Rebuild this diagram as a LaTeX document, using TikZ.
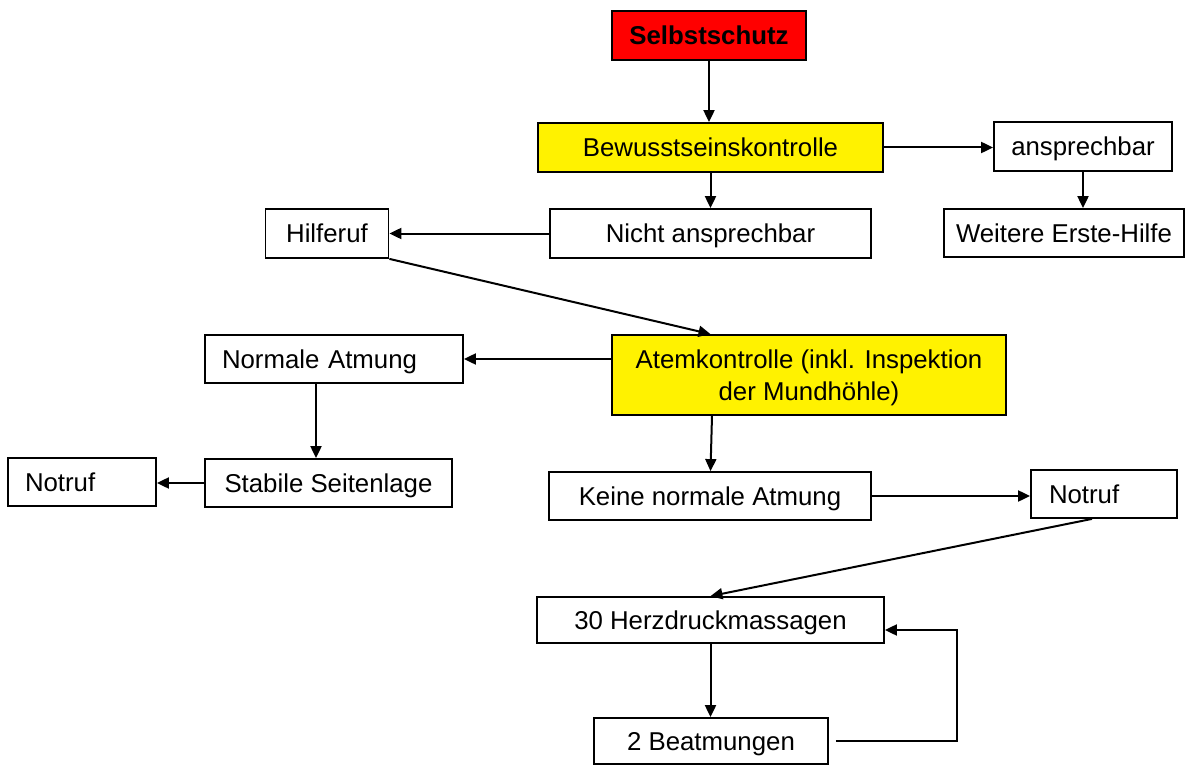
\documentclass[tikz,border=0pt]{standalone}
\usepackage{fontspec}
\setmainfont{Liberation Sans}
\usetikzlibrary{arrows.meta}

\begin{document}
\begin{tikzpicture}[x=1pt,y=-1pt,line width=1.8pt,>={Triangle[length=12pt,width=11pt]}]

      \useasboundingbox (0,0) rectangle (1200,765);

      \begin{scope}[every node/.style={rectangle,draw,inner sep=0pt,minimum height=48pt,
          text height=18.5pt,text depth=0pt,font=\fontsize{25.8}{32}\selectfont}]
        \node[fill=red,minimum width=194pt,minimum height=49pt,
          font=\fontsize{25.8}{32}\selectfont\bfseries] (1) at (709,35.5) {Selbstschutz};
        \node[fill=yellow,minimum width=345pt,minimum height=49pt] (2) at (710.5,147.5) {Bewusstseinskontrolle};
        \node[minimum width=178pt,minimum height=49pt] (3) at (1083,146.5) {ansprechbar};
        \node[minimum width=240pt] (4) at (1064,233) {Weitere Erste-Hilfe};
        \node[minimum width=321pt,minimum height=49pt] (5) at (710.5,233.5) {Nicht ansprechbar};
        \node[minimum width=123pt,minimum height=49pt] (6) at (327,233.5) {Hilferuf};
        \node[fill=yellow,minimum width=394pt,minimum height=80pt,align=center,text height=50.5pt] (7) at (809,375)
          {Atemkontrolle (inkl. Inspektion\\der Mundhöhle)};
        \node[text width=224pt,inner xsep=17pt,align=left] (8) at (334,359) {Normale Atmung};
        \node[minimum width=247pt] (9) at (328.5,483) {Stabile Seitenlage};
        \node[text width=114pt,inner xsep=17pt,align=left] (10) at (82,482) {Notruf};
        \node[minimum width=322pt] (11) at (710,496) {Keine normale Atmung};
        \node[text width=110pt,inner xsep=18pt,align=left] (12) at (1104,494) {Notruf};
        \node[minimum width=347pt,minimum height=46pt] (13) at (710.5,620) {30 Herzdruckmassagen};
        \node[minimum width=234pt,minimum height=46pt] (14) at (711,741) {2 Beatmungen};
      \end{scope}

      \coordinate (15) at (957,630);

      \begin{scope}[every edge/.style={draw,line width=2pt,->}]
        \path (1.south) edge (1.south |- 2.north);
        \path (2.east)  edge (2 -| 3.west);
        \path (2.south) edge (2.south |- 5.north);
        \path (3.south) edge (3.south |- 4.north);
        \path (5.west)  edge (5 -| 6.east);
        \path (6.south east) edge (2.south |- 7.north);
        \path (8 -| 7.west) edge (8.east);
        \path ([xshift=-18pt]8.south) edge ([xshift=-18pt]8.south |- 9.north);
        \path (9.west)  edge (9 -| 10.east);
        \path ([xshift=1.5pt]2.south |- 7.south) edge (2.south |- 11.north);
        \path (11.east) edge (11 -| 12.west);
        \path ([xshift=-12pt]12.south) edge (13.north);
        \path (13.south) edge (13.south |- 14.north);
      \end{scope}

      \draw[->,line width=2pt] ([xshift=7pt]14.east) -| (15) -- (15 -| 13.east);

    \end{tikzpicture}
\end{document}
